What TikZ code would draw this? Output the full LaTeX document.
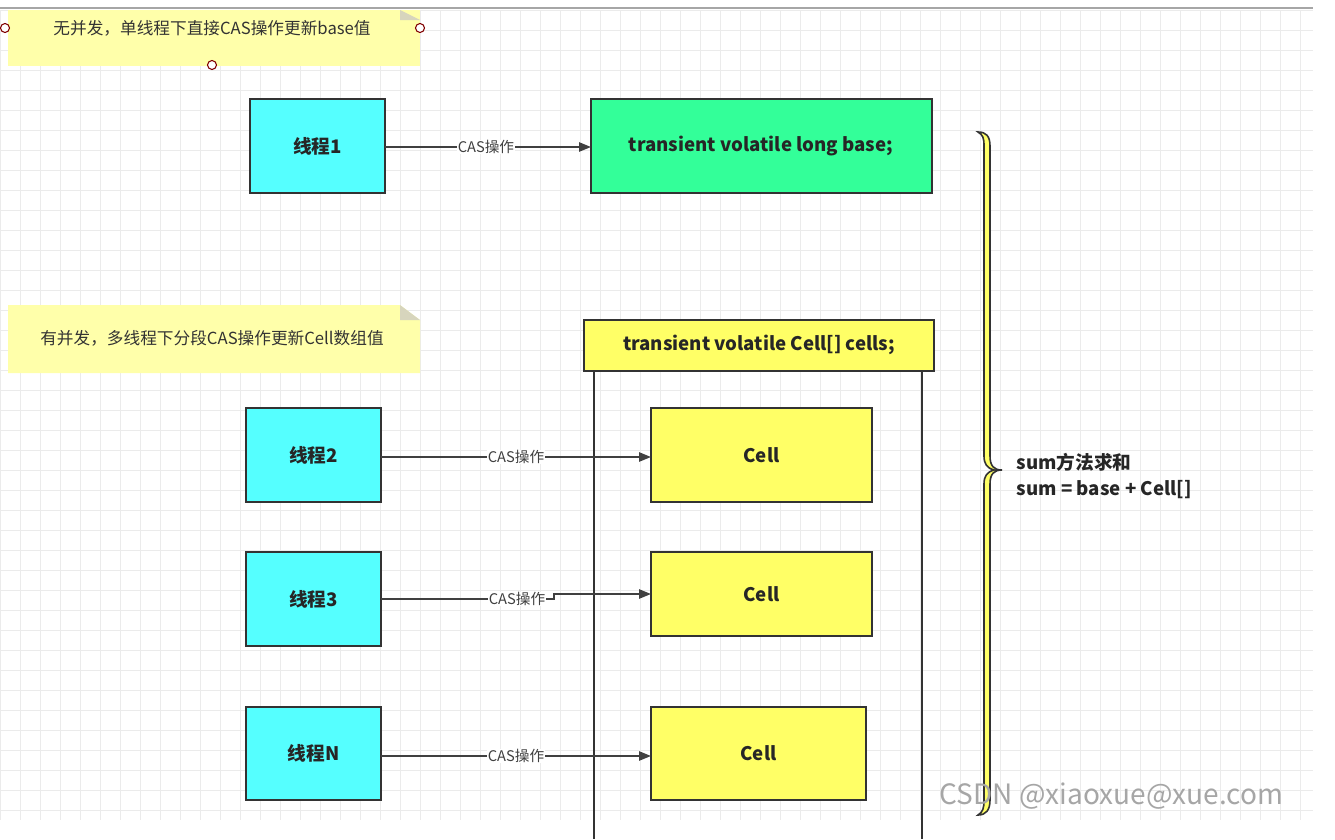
\documentclass[tikz,border=0pt]{standalone}
\usepackage{fontspec}
\setmainfont{Noto Sans CJK SC}
\definecolor{cy}{RGB}{85,255,255}
\definecolor{gr}{RGB}{51,255,153}
\definecolor{ye}{RGB}{255,255,102}
\definecolor{nt}{RGB}{255,255,170}
\usetikzlibrary{arrows.meta}
\begin{document}
\begin{tikzpicture}[x=0.75pt,y=-0.75pt,
  box/.style={draw=black!80,line width=1.2pt},
  bt/.style={font=\bfseries\fontsize{14}{14}\selectfont,text=black!85},
  arr/.style={draw=black!75,line width=1.2pt,-{Triangle[length=9pt,width=7pt]}},
  lab/.style={fill=white,inner sep=0.5pt,font=\fontsize{11}{11}\selectfont,text=black!75},
  hnd/.style={draw=red!50!black,fill=white,line width=0.8pt}]
\useasboundingbox (0,0) rectangle (1335,839);
\fill[white] (0,0) rectangle (1335,839);
\foreach \x in {0,20,...,1300} \draw[black!8,line width=0.4pt] (\x,10) -- (\x,820);
\foreach \y in {10,30,...,820} \draw[black!8,line width=0.4pt] (0,\y) -- (1313,\y);
\draw[black!35,line width=1pt] (0,8) -- (1313,8);
% notes
\fill[nt] (8,10) rectangle (420,66);
\fill[yellow!40!black!30] (400,10) -- (420,20) -- (400,20) -- cycle;
\node[font=\fontsize{12.5}{12.5}\selectfont,text=black!80] (n1) at (212,28) {无并发，单线程下直接CAS操作更新base值};
\fill[nt] (8,305) -- (400,305) -- (420,320) -- (420,373) -- (8,373) -- cycle;
\fill[yellow!40!black!30] (400,305) -- (420,320) -- (400,320) -- cycle;
\node[font=\fontsize{12.5}{12.5}\selectfont,text=black!80] (n2) at (212,338) {有并发，多线程下分段CAS操作更新Cell数组值};
\draw[hnd] (5,28) circle (4.5);
\draw[hnd] (420,28) circle (4.5);
\draw[hnd] (212,65) circle (4.5);
% top
\path[box,fill=cy] (250,99) rectangle (385,193);
\node[bt] (t1) at (317.5,146) {线程1};
\path[box,fill=gr] (591,99) rectangle (932,193);
\node[bt] (b) at (761,146) {transient volatile long base;};
\draw[arr] (385,147) -- (591,147) node[lab,pos=0.49] {CAS操作};
% container
\draw[black!80,line width=1.2pt] (594,371) -- (594,839) (922,371) -- (922,839);
\path[box,fill=ye] (584,320) rectangle (934,371);
\node[bt] (c) at (759,345) {transient volatile Cell[] cells;};
% threads and cells
\foreach \n/\ya/\yb/\cx/\cb/\lab in {2/408/502/872/502/线程2,3/552/646/872/636/线程3,N/707/800/866/800/线程N}{
  \path[box,fill=cy] (246,\ya) rectangle (381,\yb);
  \node[bt] (t\n) at (313.5,{(\ya+\yb)/2}) {\lab};
  \path[box,fill=ye] (651,\ya) rectangle (\cx,\cb);
  \node[bt] (cell\n) at ({(651+\cx)/2},{(\ya+\cb)/2}) {Cell};
}
\draw[arr] (381,457) -- (651,457) node[lab,pos=0.5] {CAS操作};
\draw[arr] (381,599) -- (554,599) -- (554,594) -- (651,594);
\node[lab] at (517,599) {CAS操作};
\draw[arr] (381,756) -- (651,756) node[lab,pos=0.5] {CAS操作};
% brace
\path[draw=black!80,line width=1.2pt,fill=ye]
 (978,132) .. controls (986,132) and (990,136) .. (990,146) -- (990,456)
 .. controls (990,466) and (994,470) .. (1002,470)
 .. controls (994,470) and (990,474) .. (990,484) -- (990,800)
 .. controls (990,810) and (986,815) .. (978,815)
 .. controls (983,812) and (984,808) .. (984,800) -- (984,484)
 .. controls (984,476) and (987,472) .. (994,470)
 .. controls (987,468) and (984,464) .. (984,456) -- (984,146)
 .. controls (984,138) and (983,135) .. (978,132) -- cycle;
\node[anchor=west,align=left,font=\bfseries\fontsize{14}{20}\selectfont,text=black!85] (s) at (1012,476) {sum方法求和\\sum = base + Cell[]};
% watermark
\node[anchor=west,font=\fontsize{21}{21}\selectfont,text=black!35] (w) at (935,796) {CSDN @xiaoxue@xue.com};
\end{tikzpicture}
\end{document}
